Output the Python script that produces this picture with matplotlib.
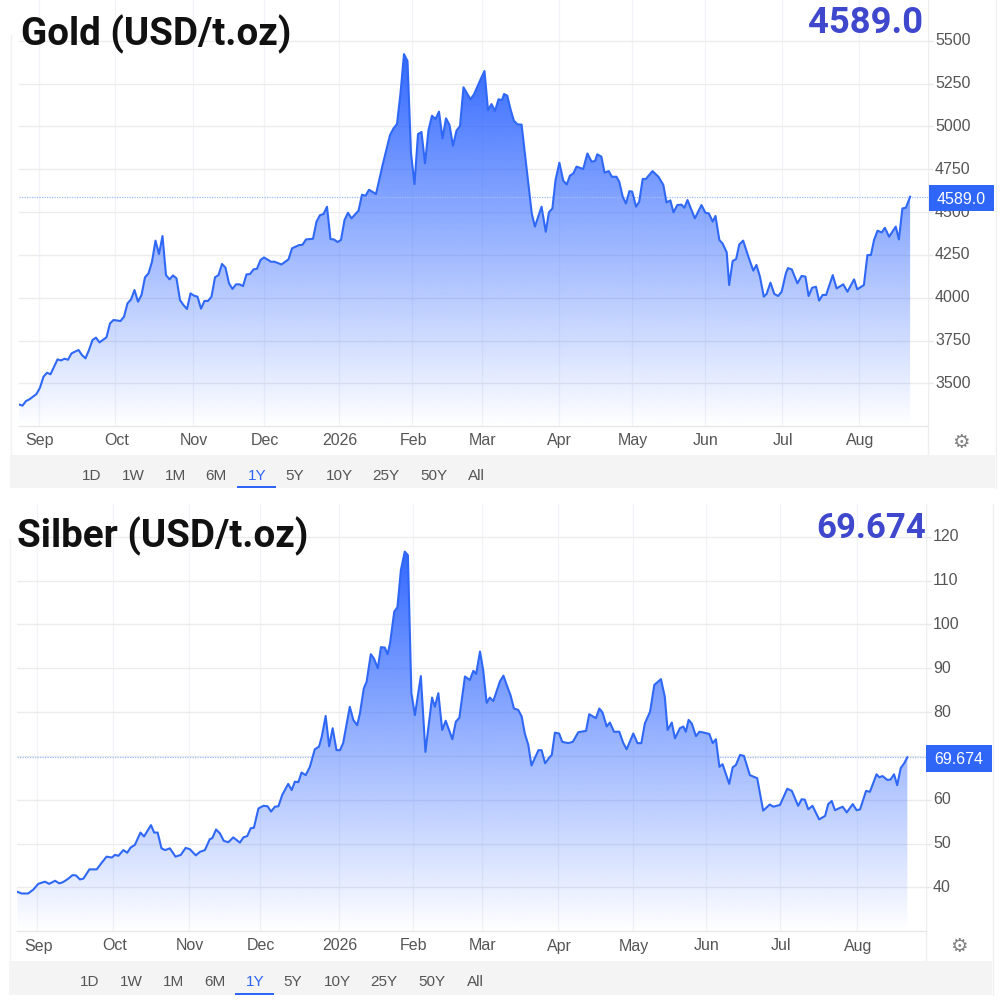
import numpy as np
import matplotlib
matplotlib.use("Agg")
import matplotlib.pyplot as plt
from matplotlib.patches import Rectangle
from matplotlib.lines import Line2D

# sessions = trading day counted from the first point of the chart
gold_sessions = [
    0, 1, 2, 3, 5, 6, 7, 8, 9, 11, 12, 13, 14, 15, 17, 18, 19, 20, 21, 22, 23, 25, 26, 27, 29, 30,
    31, 32, 33, 34, 35, 36, 37, 38, 39, 40, 41, 42, 43, 44, 45, 46, 47, 48, 49, 50, 51, 52, 53, 54,
    55, 56, 57, 58, 59, 60, 61, 62, 63, 64, 65, 66, 67, 68, 69, 70, 72, 73, 75, 77, 78, 80, 81, 82,
    84, 85, 86, 87, 88, 89, 90, 91, 92, 93, 94, 95, 97, 98, 99, 100, 102, 104, 106, 107, 108, 109,
    110, 111, 112, 113, 114, 115, 116, 117, 118, 119, 120, 121, 122, 123, 124, 125, 126, 127, 129,
    130, 132, 133, 134, 135, 136, 137, 138,
    138.6, 139.5, 140.5, 141.4, 142.4, 143.6, 146.5, 147.4, 149.3, 150.5, 151.4, 152.4, 153.3,
    154.4, 155.5, 156.5, 157.4, 158.4, 159.3, 161.2, 162.4, 163.6, 164.6, 165.2, 166.4, 167.3,
    168.5, 169.4, 170.7, 171.5, 172.5, 173.4, 174.4, 175.2, 176.3, 177.2, 178.2, 179.1, 181.0,
    182.7, 184.1, 185.0, 186.1, 187.0, 188.1, 189.3, 190.1, 191.0, 193.1, 195.0, 196.1, 197.1,
    198.2, 199.0, 200.1, 201.0, 202.2, 202.9, 203.9, 204.9, 205.8, 206.9, 208.4, 209.8, 210.7,
    211.7, 212.8, 213.6, 214.7, 215.8, 216.9, 217.9, 219.1, 219.7, 220.8, 222.4, 223.6, 224.7,
    225.6, 226.6, 227.7, 228.6, 229.6, 230.6, 232.5, 233.6, 235.5, 236.7, 238.6, 239.5, 241.4,
    242.4, 243.4, 244.3, 245.3, 246.5, 247.4, 248.6, 250.5, 251.4, 252.4, 253.4, 254.6,
]
gold_prices = [
    3377, 3370, 3397, 3407, 3438, 3475, 3539, 3562, 3553, 3640, 3634, 3644, 3638, 3675, 3695, 3665,
    3646, 3695, 3753, 3767, 3739, 3769, 3850, 3870, 3864, 3889, 3967, 3990, 4045, 3977, 4016, 4119,
    4142, 4210, 4333, 4255, 4360, 4132, 4107, 4130, 4113, 3986, 3957, 3934, 4025, 4012, 4006, 3936,
    3981, 3981, 4006, 4119, 4132, 4197, 4175, 4084, 4051, 4078, 4078, 4068, 4136, 4138, 4165, 4169,
    4220, 4235, 4210, 4210, 4194, 4224, 4288, 4307, 4309, 4340, 4344, 4444, 4482, 4488, 4531, 4342,
    4340, 4325, 4337, 4453, 4496, 4463, 4508, 4601, 4595, 4630, 4605, 4784, 4949, 4988, 5014, 5193,
    5422, 5381, 4842, 4663, 4955, 4967, 4784, 4979, 5062, 5043, 5086, 4930, 5047, 5008, 4887, 4975,
    5002, 5228, 5158, 5187, 5280, 5323, 5095, 5130, 5090, 5158, 5154,
    5189, 5179, 5095, 5033, 5012, 5010, 4492, 4415, 4531, 4385, 4498, 4521, 4687, 4788, 4683, 4661,
    4712, 4726, 4765, 4751, 4842, 4794, 4798, 4837, 4823, 4730, 4739, 4706, 4706, 4677, 4589, 4550,
    4622, 4619, 4531, 4560, 4693, 4693, 4739, 4706, 4658, 4556, 4568, 4498, 4541, 4543, 4525, 4570,
    4463, 4541, 4496, 4492, 4444, 4477, 4337, 4317, 4265, 4074, 4214, 4226, 4311, 4333, 4239, 4158,
    4191, 4123, 4006, 4022, 4088, 4022, 4010, 4035, 4142, 4173, 4165, 4084, 4127, 4123, 4010, 4058,
    4064, 3983, 4016, 4016, 4132, 4054, 4078, 4035, 4107, 4049, 4074, 4249, 4249, 4337, 4391, 4381,
    4408, 4356, 4415, 4340, 4521, 4525, 4589,
]

silver_sessions = [
    0, 1.2, 3.1, 4.6, 6, 7.9, 9.1, 10.8, 12, 13.1, 14.6, 15.8, 16.8, 17.9, 18.9, 20.6, 22.7, 24.1,
    25.5, 27, 27.9, 28.9, 30.3, 31.4, 32.4, 33.6, 35.2, 36.2, 38.2, 39.1, 40.1, 41.2, 42.2, 43.6,
    45.2, 46.7, 48.1, 49.3, 51, 52.2, 53.6, 55, 55.7, 56.8, 57.9, 59, 60.3, 61.7, 63.6, 64.6, 65.7,
    66.7, 67.6, 68.9, 70.3, 71.5, 72.5, 73.6, 74.6, 75.7, 77.4, 78.4, 79.3, 80.3, 81.2, 82.4, 83.6,
    85, 86.2, 87, 88.1, 89.1, 90.1, 91.2, 92.2, 93.1, 95, 96, 97.1, 97.9, 99, 99.8, 101, 101.9, 103,
    103.9, 105, 105.8, 106.5, 107.7, 108.6, 109.6, 110.7, 111.6, 112.6, 113.6, 115.3, 116.6, 118.5,
    119.3, 120.3, 121.4, 122.4, 124.3, 125.3, 126.3, 127.9, 129.3, 130.3, 131.1, 132.2, 133.1,
    134.1, 135, 136, 137.9,
    138.9, 140, 140.9, 141.9, 143.1, 144.1, 145, 146, 146.9, 148.9, 149.8, 150.8, 152.2, 152.7,
    153.6, 154.8, 155.7, 157.4, 158.7, 160.3, 162.5, 163.4, 165.3, 166.3, 167.2, 168.4, 169.3,
    170.5, 172, 173.1, 174.1, 176, 177.2, 178.3, 179.3, 180.8, 182, 183.9, 185, 185.8, 187, 187.9,
    189.3, 190.3, 191, 191.8, 192.7, 193.9, 194.9, 196.2, 197.7, 198.7, 199.6, 200.6, 201.5, 203.4,
    204.4, 205.3, 206.5, 207.6, 209.3, 211.4, 213.1, 215, 216, 217.9, 220, 221.3, 223.1, 224.1, 225,
    226, 227.2, 229.1, 230.8, 231.7, 232.7, 233.6, 235.8, 237, 238.7, 239.8, 240.8, 242.5, 243.6,
    245.5, 246.3, 247.2, 248.6, 249.5, 250.5, 251.4, 252.4, 253.4, 254.3,
]
silver_prices = [
    39.0, 38.6, 38.6, 39.5, 40.8, 41.3, 40.8, 41.5, 40.9, 41.2, 42.0, 42.8, 42.7, 41.8, 42.0, 44.1,
    44.1, 45.6, 47.0, 46.8, 47.4, 47.2, 48.5, 47.9, 49.1, 49.7, 52.5, 51.6, 54.2, 52.5, 52.5, 48.9,
    48.5, 48.9, 47.0, 47.4, 49.0, 48.7, 47.3, 48.1, 48.5, 51.0, 51.2, 53.2, 52.3, 50.6, 50.3, 51.4,
    50.2, 51.4, 51.7, 53.5, 53.6, 58.0, 58.6, 58.5, 57.3, 58.4, 58.5, 61.1, 63.6, 62.2, 64.1, 64.0,
    66.2, 65.6, 67.5, 71.5, 72.1, 74.4, 79.1, 72.2, 76.3, 71.3, 71.3, 72.9, 81.2, 78.2, 77.0, 79.7,
    85.4, 86.9, 93.2, 92.2, 90.0, 94.8, 94.7, 93.2, 95.7, 102.9, 103.9, 112.4, 116.6, 115.8, 84.3,
    79.3, 88.2, 70.9, 83.3, 81.2, 84.3, 75.9, 78.0, 73.8, 77.8, 78.7, 88.1, 87.3, 89.4, 88.7, 93.8,
    89.6, 82.1, 83.3, 82.5, 87.0,
    88.3, 85.8, 83.9, 80.8, 80.5, 79.0, 75.1, 72.5, 67.8, 71.3, 71.3, 68.3, 69.8, 70.2, 75.3, 75.1,
    73.2, 72.9, 73.2, 75.4, 75.7, 79.5, 78.6, 80.8, 79.9, 76.7, 77.6, 75.5, 75.5, 73.0, 71.5, 75.1,
    72.9, 72.9, 77.4, 80.1, 86.2, 87.5, 83.5, 75.9, 77.6, 74.0, 76.3, 76.7, 75.5, 78.2, 77.4, 74.5,
    75.5, 75.3, 75.0, 72.9, 73.8, 67.5, 68.1, 63.6, 67.4, 67.9, 70.2, 70.0, 65.6, 64.9, 57.5, 58.9,
    58.4, 58.8, 62.5, 62.0, 58.6, 60.1, 60.0, 57.8, 58.6, 55.5, 56.3, 59.0, 59.7, 57.6, 58.4, 57.1,
    59.0, 57.6, 57.8, 62.0, 61.8, 65.8, 65.1, 65.4, 64.5, 64.6, 65.8, 63.3, 67.2, 68.3, 69.674,
]

month_labels = ["Sep", "Oct", "Nov", "Dec", "2026", "Feb", "Mar", "Apr", "May", "Jun", "Jul", "Aug"]
gold_month_pos = [5.6, 27.5, 49.6, 70, 91.4, 112.4, 132.3, 154.2, 175, 196, 218, 240]
silver_month_pos = [5.7, 27.4, 49, 69.3, 91.9, 113, 132.7, 154.6, 176, 196.7, 217.9, 240]
gold_yticks = [3500, 3750, 4000, 4250, 4500, 4750, 5000, 5250, 5500]
silver_yticks = [40, 50, 60, 70, 80, 90, 100, 110, 120]
# the 70 sits behind the price flag in the reference, so it gets no label
silver_hidden_ticks = [70]
range_labels = ["1D", "1W", "1M", "6M", "1Y", "5Y", "10Y", "25Y", "50Y", "All"]

BLUE = "#3068f6"
TICK_GREY = "#555555"
TITLE_FONT = "Roboto"
LABEL_FONT = "Liberation Sans"

fig = plt.figure(figsize=(10, 10), dpi=100, facecolor="white")


def fx(x):
    return x / 1000


def fy(y):
    return 1 - y / 1000


def frect(x0, y0, x1, y1, color, z=1):
    fig.add_artist(Rectangle((fx(x0), fy(y1)), (x1 - x0) / 1000, (y1 - y0) / 1000,
                             transform=fig.transFigure, facecolor=color, edgecolor="none", zorder=z))


def fline(x0, y0, x1, y1, color, lw=1.0, z=1):
    fig.add_artist(Line2D([fx(x0), fx(x1)], [fy(y0), fy(y1)], transform=fig.transFigure,
                          color=color, lw=lw, zorder=z))


def draw_panel(title, title_x, title_y, value_text, value_right, value_y, value_size, sessions, prices,
               month_pos, yticks, hidden, ylim, left, right, top, bottom, last, box, strip,
               button_xs, button_y, gear):
    ax = fig.add_axes([fx(left), fy(bottom), (right - left) / 1000, (bottom - top) / 1000], zorder=2)
    ax.set_xlim(0, (right - left) / 3.5)
    ax.set_ylim(*ylim)

    ax.set_axisbelow(True)
    ax.set_xticks(month_pos)
    ax.set_xticklabels([])
    ax.set_yticks(yticks)
    ax.set_yticklabels([])
    ax.tick_params(axis="x", length=0)
    ax.tick_params(axis="y", length=3.6, color="#e8e8e8", width=1, right=True, left=False)
    ax.grid(axis="y", color="#ececec", lw=1.0)
    ax.grid(axis="x", color="#f0f4f8", lw=0.9)
    for name in ["top", "left", "right"]:
        ax.spines[name].set_visible(False)
    ax.spines["bottom"].set_color("#e8e8e8")
    ax.spines["bottom"].set_linewidth(1.0)

    # gradient under the line: full blue at the peak, fading out at the bottom
    poly = ax.fill_between(sessions, prices, ylim[0], color="none", lw=0)
    rgba = np.zeros((256, 1, 4))
    rgba[:, :, :3] = matplotlib.colors.to_rgb("#2f66ff")
    rgba[:, :, 3] = np.linspace(0.98, 0.0, 256)[:, None]
    im = ax.imshow(rgba, extent=[0, sessions[-1], ylim[0], max(prices)], aspect="auto",
                   origin="upper", zorder=1.5, interpolation="bilinear")
    im.set_clip_path(poly.get_paths()[0], transform=ax.transData)
    ax.set_xlim(0, (right - left) / 3.5)
    ax.set_ylim(*ylim)

    ax.plot(sessions, prices, color=BLUE, lw=1.5, zorder=3, solid_joinstyle="round")
    ax.axhline(last, color="#a3bbf8", lw=0.9, ls=(0, (1, 1)), zorder=2.5)

    # frame bits around the plot
    fline(right, top, right, strip[1], "#eeeeee", 1.0, z=1)
    fline(strip[0] + 0.5, top + 35, strip[0] + 0.5, strip[1], "#f2f2f2", 1.0, z=1)
    fline(strip[2] + 0.5, top, strip[2] + 0.5, strip[3], "#f0f0f0", 1.0, z=1)
    frect(strip[0], strip[1], strip[2], strip[3], "#f4f4f4", z=1)

    # axis labels
    for pos, lab in zip(month_pos, month_labels):
        fig.text(fx(left + pos * 3.5 + 1), fy(bottom + 15), lab, ha="center", va="center",
                 fontsize=11.5, color=TICK_GREY, family=LABEL_FONT, zorder=4)
    for tick in yticks:
        if tick in hidden:
            continue
        ypix = top + (ylim[1] - tick) / (ylim[1] - ylim[0]) * (bottom - top)
        fig.text(fx(right + 7), fy(ypix), str(tick), ha="left", va="center",
                 fontsize=11.5, color=TICK_GREY, family=LABEL_FONT, zorder=4)

    # price flag
    frect(box[0], box[1], box[2], box[3], "#2f66f8", z=5)
    fig.text(fx((box[0] + box[2]) / 2), fy((box[1] + box[3]) / 2 + 1), value_text, ha="center", va="center",
             fontsize=11.5, color="white", family=LABEL_FONT, zorder=6)

    # range buttons
    for bx, lab in zip(button_xs, range_labels):
        col = "#2f66f8" if lab == "1Y" else TICK_GREY
        fig.text(fx(bx), fy(button_y + 1), lab, ha="center", va="center", fontsize=11, color=col,
                 family=LABEL_FONT, zorder=6)
    sel = button_xs[range_labels.index("1Y")]
    frect(sel - 20, strip[3] - 2, sel + 19, strip[3], "#2f66f8", z=6)

    fig.text(fx(gear[0]), fy(gear[1]), "\u2699", ha="center", va="center", fontsize=14,
             color="#808080", family="DejaVu Sans", zorder=6)

    # headings pasted over the chart
    fig.text(fx(title_x), fy(title_y), title, ha="left", va="center", fontsize=27.7,
             fontweight="bold", color="#111111", family=TITLE_FONT, zorder=7)
    fig.text(fx(value_right), fy(value_y), value_text, ha="right", va="center",
             fontsize=value_size, fontweight="bold", color="#3f48cc", family=TITLE_FONT, zorder=7)


draw_panel("Gold (USD/t.oz)", 21, 34, "4589.0", 923, 23, 26.3, gold_sessions, gold_prices, gold_month_pos,
           gold_yticks, [], (3253, 5737.5), 19, 928, 0, 425.7, 4589.0, (929, 185, 994, 211),
           (10, 455, 995, 488), [92, 133, 175, 216, 257, 295, 339, 386, 434, 476], 475, (961, 442))

draw_panel("Silber (USD/t.oz)", 17, 536, "69.674", 926, 529, 25, silver_sessions, silver_prices,
           silver_month_pos, silver_yticks, silver_hidden_ticks, (30.04, 127.46), 17.3, 926, 504, 931,
           69.674, (926, 745, 992, 772), (9, 961, 992, 995),
           [90, 131, 174, 215, 255, 293, 337, 384, 432, 475], 981, (959, 947))

fig.savefig("out.png", dpi=100)
